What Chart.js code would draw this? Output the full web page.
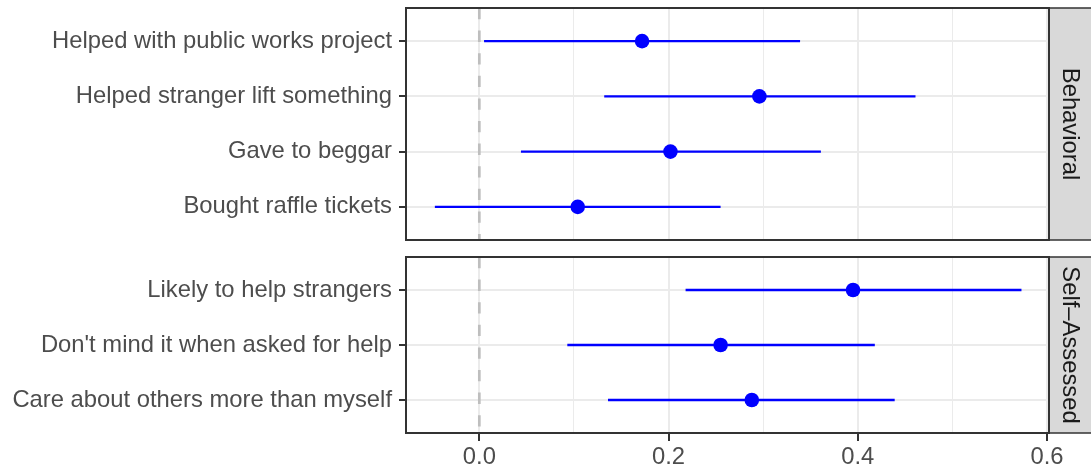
<!DOCTYPE html>
<html>
<head>
<meta charset="utf-8">
<script src="https://cdn.jsdelivr.net/npm/chart.js@4.4.1/dist/chart.umd.min.js"></script>
<style>
  html, body { margin: 0; padding: 0; background: #ffffff; }
  #wrap { position: relative; width: 1091px; height: 470px; overflow: hidden; }
  canvas { position: absolute; left: 0; }
  #c1 { top: 0; }
  #c2 { top: 249px; }
</style>
</head>
<body>
<div id="wrap">
  <canvas id="c1" width="1091" height="250"></canvas>
  <canvas id="c2" width="1091" height="221"></canvas>
</div>
<script>
// Facet titles
const facetBehavioral = 'Behavioral';
const facetSelf = 'Self\u2013Assessed';

// Behavioral items: estimate with lower / upper interval bounds
const behavioralItems = [
  'Helped with public works project',
  'Helped stranger lift something',
  'Gave to beggar',
  'Bought raffle tickets'
];
const behavioralEst = [0.172, 0.296, 0.202, 0.104];
const behavioralLo  = [0.005, 0.132, 0.044, -0.047];
const behavioralHi  = [0.339, 0.461, 0.361, 0.255];

// Self-assessed items
const selfItems = [
  'Likely to help strangers',
  "Don't mind it when asked for help",
  'Care about others more than myself'
];
const selfEst = [0.395, 0.255, 0.288];
const selfLo  = [0.218, 0.093, 0.136];
const selfHi  = [0.573, 0.418, 0.439];

// Horizontal axis ticks
const xMajorTicks = [0, 0.2, 0.4, 0.6];
const xMinorTicks = [0.1, 0.3, 0.5];
const xMin = -0.0775;
const xMax = 0.6021;
const refValue = 0;

const FONT = '"Liberation Sans", Arial, Helvetica, sans-serif';
const FONT_SIZE = 23.8;
const BLUE = '#0000FF';

const isMinor = v => xMinorTicks.some(m => Math.abs(m - v) < 1e-9);

// Panel border and facet strip on the right side
const panelFrame = {
  id: 'panelFrame',
  afterDatasetsDraw(chart, args, opts) {
    const a = chart.chartArea;
    const c = chart.ctx;
    c.save();
    const sw = 46;
    c.fillStyle = '#D9D9D9';
    c.fillRect(a.right, a.top, sw, a.bottom - a.top);
    c.strokeStyle = '#333333';
    c.lineWidth = 1.5;
    c.strokeRect(a.right, a.top, sw, a.bottom - a.top);
    c.lineWidth = 2;
    c.strokeRect(a.left, a.top, a.right - a.left, a.bottom - a.top);
    c.translate(a.right + 21, (a.top + a.bottom) / 2);
    c.rotate(Math.PI / 2);
    c.fillStyle = '#1A1A1A';
    c.font = FONT_SIZE + 'px ' + FONT;
    c.textAlign = 'center';
    c.textBaseline = 'middle';
    c.fillText(opts.label, 0, 0);
    c.restore();
  }
};

function buildDatasets(n, est, lo, hi) {
  const ds = [];
  // dashed reference line at zero
  ds.push({
    data: [{ x: refValue, y: -0.6 }, { x: refValue, y: n - 0.4 }],
    showLine: true,
    borderColor: '#BEBEBE',
    borderWidth: 2.7,
    borderDash: [11.3, 11.3],
    pointRadius: 0,
    order: 10
  });
  // interval segments
  for (let i = 0; i < n; i++) {
    ds.push({
      data: [{ x: lo[i], y: i }, { x: hi[i], y: i }],
      showLine: true,
      borderColor: BLUE,
      borderWidth: 2.3,
      pointRadius: 0,
      order: 5
    });
  }
  // point estimates
  ds.push({
    data: est.map((v, i) => ({ x: v, y: i })),
    showLine: false,
    pointRadius: 7.3,
    pointBackgroundColor: BLUE,
    pointBorderWidth: 0,
    order: 1
  });
  return ds;
}

function makeChart(id, items, est, lo, hi, label, showX) {
  const n = items.length;
  return new Chart(document.getElementById(id), {
    type: 'scatter',
    data: { datasets: buildDatasets(n, est, lo, hi) },
    plugins: [panelFrame],
    options: {
      responsive: false,
      animation: false,
      events: [],
      layout: { padding: { top: 8, right: 42, bottom: showX ? 0 : 10, left: 0 } },
      plugins: {
        legend: { display: false },
        tooltip: { enabled: false },
        panelFrame: { label: label }
      },
      scales: {
        x: {
          type: 'linear',
          min: xMin,
          max: xMax,
          afterBuildTicks: s => {
            s.ticks = [...xMajorTicks, ...xMinorTicks].sort((a, b) => a - b).map(v => ({ value: v }));
          },
          afterFit: s => {
            s.height = showX ? 37 : 0;
            s.paddingLeft = 0;
            s.paddingRight = 0;
          },
          border: { display: false },
          grid: {
            color: '#EBEBEB',
            lineWidth: ctx => (ctx.tick && isMinor(ctx.tick.value)) ? 1 : 2,
            drawTicks: showX,
            tickLength: 8,
            tickWidth: 2,
            tickColor: ctx => (ctx.tick && isMinor(ctx.tick.value)) ? 'rgba(0,0,0,0)' : '#333333'
          },
          ticks: {
            display: showX,
            autoSkip: false,
            maxRotation: 0,
            padding: 2,
            color: '#4D4D4D',
            font: { family: FONT, size: FONT_SIZE },
            callback: v => isMinor(v) ? '' : v.toFixed(1)
          }
        },
        y: {
          type: 'linear',
          min: -0.6,
          max: n - 0.4,
          reverse: true,
          afterBuildTicks: s => { s.ticks = items.map((_, i) => ({ value: i })); },
          afterFit: s => {
            s.width = 406;
            s.paddingTop = 0;
            s.paddingBottom = 0;
          },
          border: { display: false },
          grid: {
            color: '#EBEBEB',
            lineWidth: 2,
            drawTicks: true,
            tickLength: 7,
            tickWidth: 2,
            tickColor: '#333333'
          },
          ticks: {
            autoSkip: false,
            padding: 7,
            color: '#4D4D4D',
            font: { family: FONT, size: FONT_SIZE },
            callback: v => items[v]
          }
        }
      }
    }
  });
}

makeChart('c1', behavioralItems, behavioralEst, behavioralLo, behavioralHi, facetBehavioral, false);
makeChart('c2', selfItems, selfEst, selfLo, selfHi, facetSelf, true);
</script>
</body>
</html>
